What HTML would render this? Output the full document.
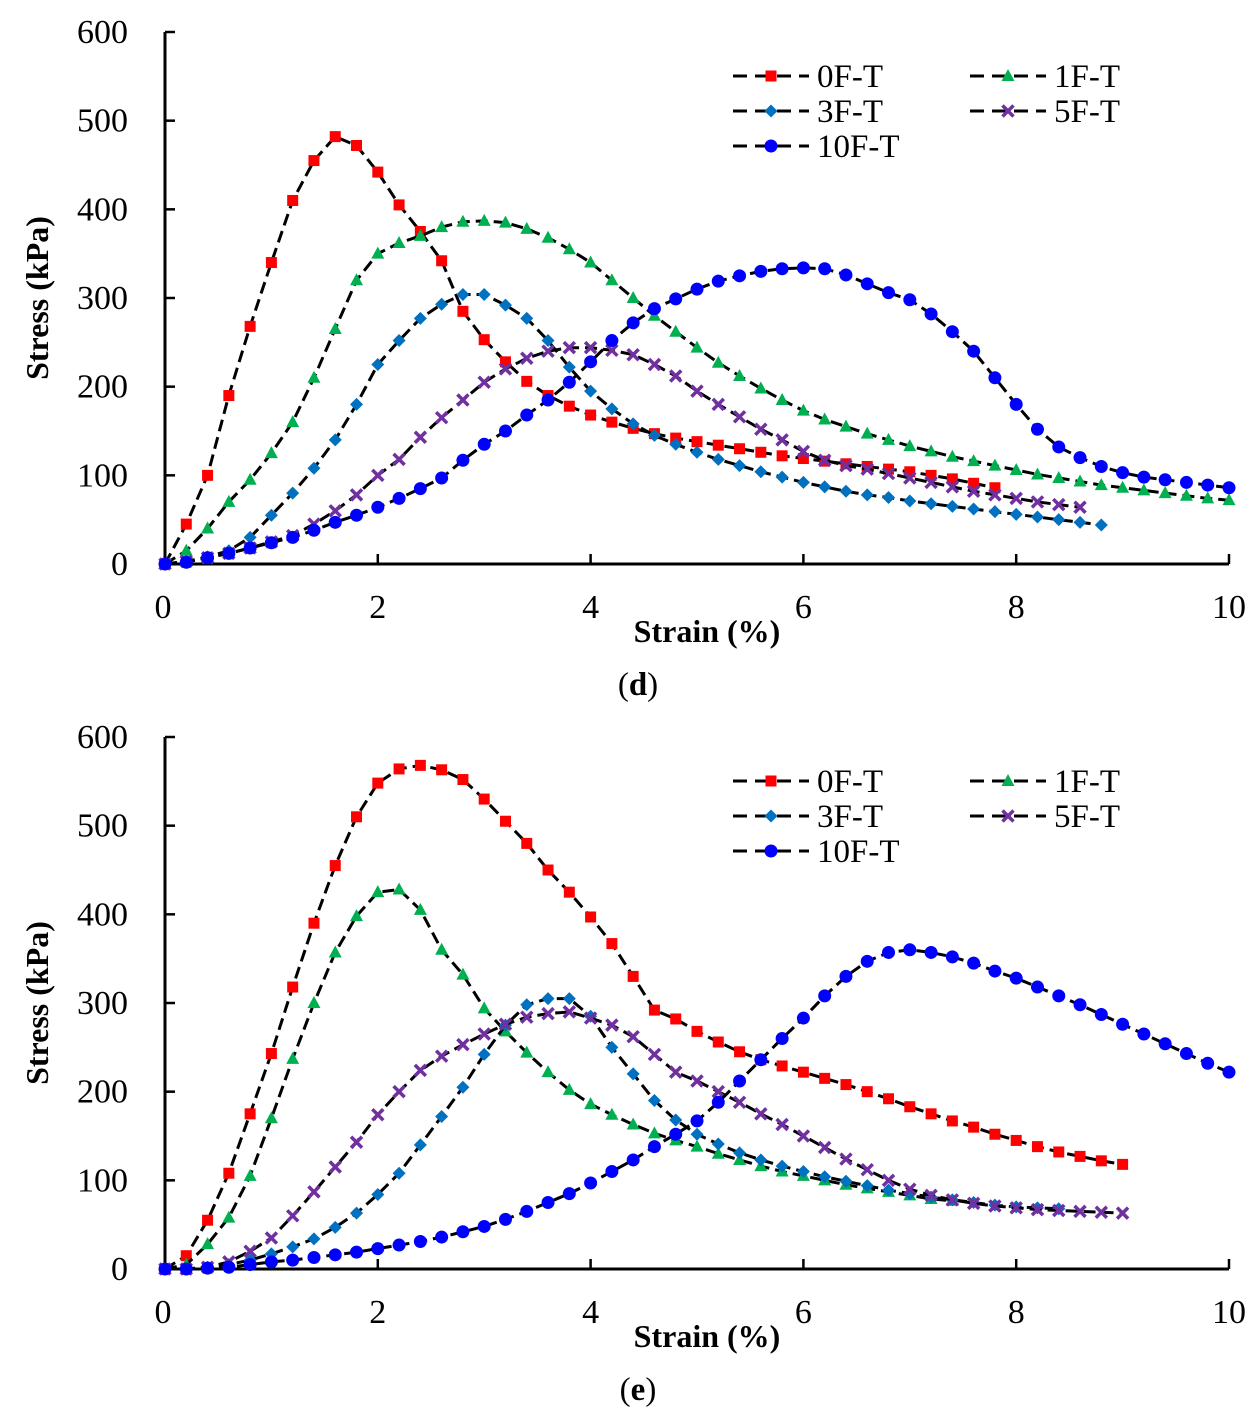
<!DOCTYPE html>
<html><head><meta charset="utf-8"><style>
html,body{margin:0;padding:0;background:#fff;}
svg{display:block;font-family:"Liberation Serif",serif;}
</style></head><body>
<svg id="svg" width="1258" height="1420" viewBox="0 0 1258 1420" xmlns="http://www.w3.org/2000/svg"></svg>
<script>
const strainStep = 0.2;
const seriesNames = ["0F-T","1F-T","3F-T","5F-T","10F-T"];
const xTicks = [0,2,4,6,8,10];
const yTicks = [0,100,200,300,400,500,600];
// Panel (d)
const d0F = [0,45,100,190,268,340,410,455,482,472,442,405,375,342,285,253,228,206,190,178,168,160,153,147,142,138,134,130,126,122,119,116,113,110,107,104,100,96,91,86];
const d1F = [0,15,40,70,95,125,160,210,265,320,350,362,370,380,386,387,385,378,368,355,340,320,300,280,262,244,227,212,198,185,173,163,155,147,140,133,127,121,116,111,106,101,97,93,89,86,83,80,77,74,72];
const d3F = [0,3,8,15,30,55,80,108,140,180,225,252,277,293,304,304,292,277,252,222,195,175,158,145,135,126,118,111,104,98,92,87,82,78,75,71,68,65,62,59,56,53,50,47,44];
const d5F = [0,3,7,12,18,25,32,45,60,78,100,118,143,165,185,205,220,232,240,244,244,241,236,225,212,195,180,166,152,140,127,117,111,107,102,97,92,87,82,78,74,70,67,64];
const d10F = [0,2,7,12,18,24,30,38,47,55,64,74,85,97,117,135,150,168,185,205,228,252,272,288,299,310,319,325,330,333,334,333,326,316,306,298,282,262,240,210,180,152,132,120,110,103,98,95,92,89,86];
// Panel (e)
const e0F = [0,15,55,108,175,243,318,390,455,510,548,564,568,563,552,530,505,480,450,425,397,367,330,292,282,268,256,245,236,229,222,215,208,200,192,183,175,167,160,152,145,138,132,127,122,118];
const e1F = [0,5,28,58,105,170,237,300,357,398,425,428,405,360,332,294,268,244,222,202,186,174,163,153,145,138,130,123,116,110,105,100,95,91,87,83,79,77];
const e3F = [0,0,2,5,10,17,25,34,47,63,84,108,140,172,205,242,275,298,305,305,285,250,220,190,168,152,141,131,123,116,110,104,99,94,89,85,81,78,75,72,70,69,68];
const e5F = [0,0,2,8,20,35,60,87,115,143,174,200,224,240,253,265,276,284,288,290,283,275,262,242,222,212,200,188,175,163,150,137,124,112,100,90,83,78,74,71,69,67,66,65,64,63];
const e10F = [0,0,1,2,5,8,10,13,16,19,23,27,31,36,42,48,56,65,75,85,97,110,123,138,152,167,188,212,236,260,283,308,330,347,357,360,357,352,345,336,328,318,308,298,287,276,265,254,243,232,222];

const NS="http://www.w3.org/2000/svg";
const svg=document.getElementById('svg');
const colors=["#FF0000","#00B050","#0070C0","#7030A0","#0000FF"];
const shapes=["square","triangle","diamond","cross","circle"];
function mk(tag,attrs,parent){const e=document.createElementNS(NS,tag);for(const k in attrs)e.setAttribute(k,attrs[k]);(parent||svg).appendChild(e);return e;}
function marker(g,shape,color,x,y){
  let m;
  if(shape==="square") m=mk('rect',{x:x-5.5,y:y-5.5,width:11,height:11,fill:color},g);
  else if(shape==="triangle") m=mk('polygon',{points:`${x},${y-7} ${x+6.5},${y+5} ${x-6.5},${y+5}`,fill:color},g);
  else if(shape==="diamond") m=mk('polygon',{points:`${x},${y-6.5} ${x+6.5},${y} ${x},${y+6.5} ${x-6.5},${y}`,fill:color},g);
  else if(shape==="circle") m=mk('circle',{cx:x,cy:y,r:6.5,fill:color},g);
  else m=mk('path',{d:`M${x-5.5},${y-5.5}L${x+5.5},${y+5.5}M${x+5.5},${y-5.5}L${x-5.5},${y+5.5}`,stroke:color,'stroke-width':3.5,fill:'none'},g);
  return m;
}
function drawPanel(top,seriesList,label,key){
  const x0=165,x1=1229,yBase=top+532;
  const xs=v=>x0+v*(x1-x0)/10;
  const ys=v=>yBase-v*532/600;
  const pg=mk('g',{});
  
  
  const ax=mk('g',{},pg);
  
  
  mk('line',{x1:x0,y1:top,x2:x0,y2:yBase+1.5,stroke:'#000','stroke-width':3},ax);
  mk('line',{x1:x0-1.5,y1:yBase,x2:x1,y2:yBase,stroke:'#000','stroke-width':3},ax);
  yTicks.forEach(t=>{
    mk('line',{x1:x0,y1:ys(t),x2:x0+10,y2:ys(t),stroke:'#000','stroke-width':2.5},ax);
    const tx=mk('text',{x:128,y:ys(t)+11,'text-anchor':'end','font-size':34},ax);
    tx.textContent=t;
    
    
  });
  xTicks.forEach(t=>{
    if(t>0) mk('line',{x1:xs(t),y1:yBase,x2:xs(t),y2:yBase-10,stroke:'#000','stroke-width':2.5},ax);
    const tx=mk('text',{x:xs(t)-(t===0?2:0),y:yBase+54,'text-anchor':'middle','font-size':34},ax);
    tx.textContent=t;
    
    
  });
  const yt=mk('text',{x:0,y:0,'text-anchor':'middle','font-size':32,'font-weight':'bold',transform:`translate(48,${top+266}) rotate(-90)`},pg);
  yt.textContent='Stress (kPa)';
  
  
  const xt=mk('text',{x:707,y:yBase+78,'text-anchor':'middle','font-size':32,'font-weight':'bold'},pg);
  xt.textContent='Strain (%)';
  
  
  const pl=mk('text',{x:638,y:yBase+131,'text-anchor':'middle','font-size':33},pg);
  pl.innerHTML='(<tspan font-weight="bold">'+label+'</tspan>)';
  
  
  seriesList.forEach((vals,i)=>{
    const g=mk('g',{},pg);
    
    
    const pts=vals.map((v,j)=>xs(j*strainStep).toFixed(1)+','+ys(v).toFixed(1)).join(' ');
    const ln=mk('polyline',{points:pts,fill:'none',stroke:'#000','stroke-width':3,'stroke-dasharray':'12,6'},g);
    
    
    vals.forEach((v,j)=>{
      const m=marker(g,shapes[i],colors[i],xs(j*strainStep),ys(v));
      
      
    });
  });
  const lg=mk('g',{},pg);
  
  
  const pos=[[733,top+44],[970,top+44],[733,top+79],[970,top+79],[733,top+114]];
  seriesNames.forEach((n,i)=>{
    const [lx,ly]=pos[i];
    const eg=mk('g',{},lg);
    
    
    mk('line',{x1:lx,y1:ly,x2:lx+76,y2:ly,stroke:'#000','stroke-width':3,'stroke-dasharray':'14,8'},eg);
    marker(eg,shapes[i],colors[i],lx+38,ly);
    const t=mk('text',{x:lx+84,y:ly+11,'font-size':33},eg);
    t.textContent=n;
  });
}
drawPanel(32,[d0F,d1F,d3F,d5F,d10F],'d','d');
drawPanel(737,[e0F,e1F,e3F,e5F,e10F],'e','e');
</script>
</body></html>
